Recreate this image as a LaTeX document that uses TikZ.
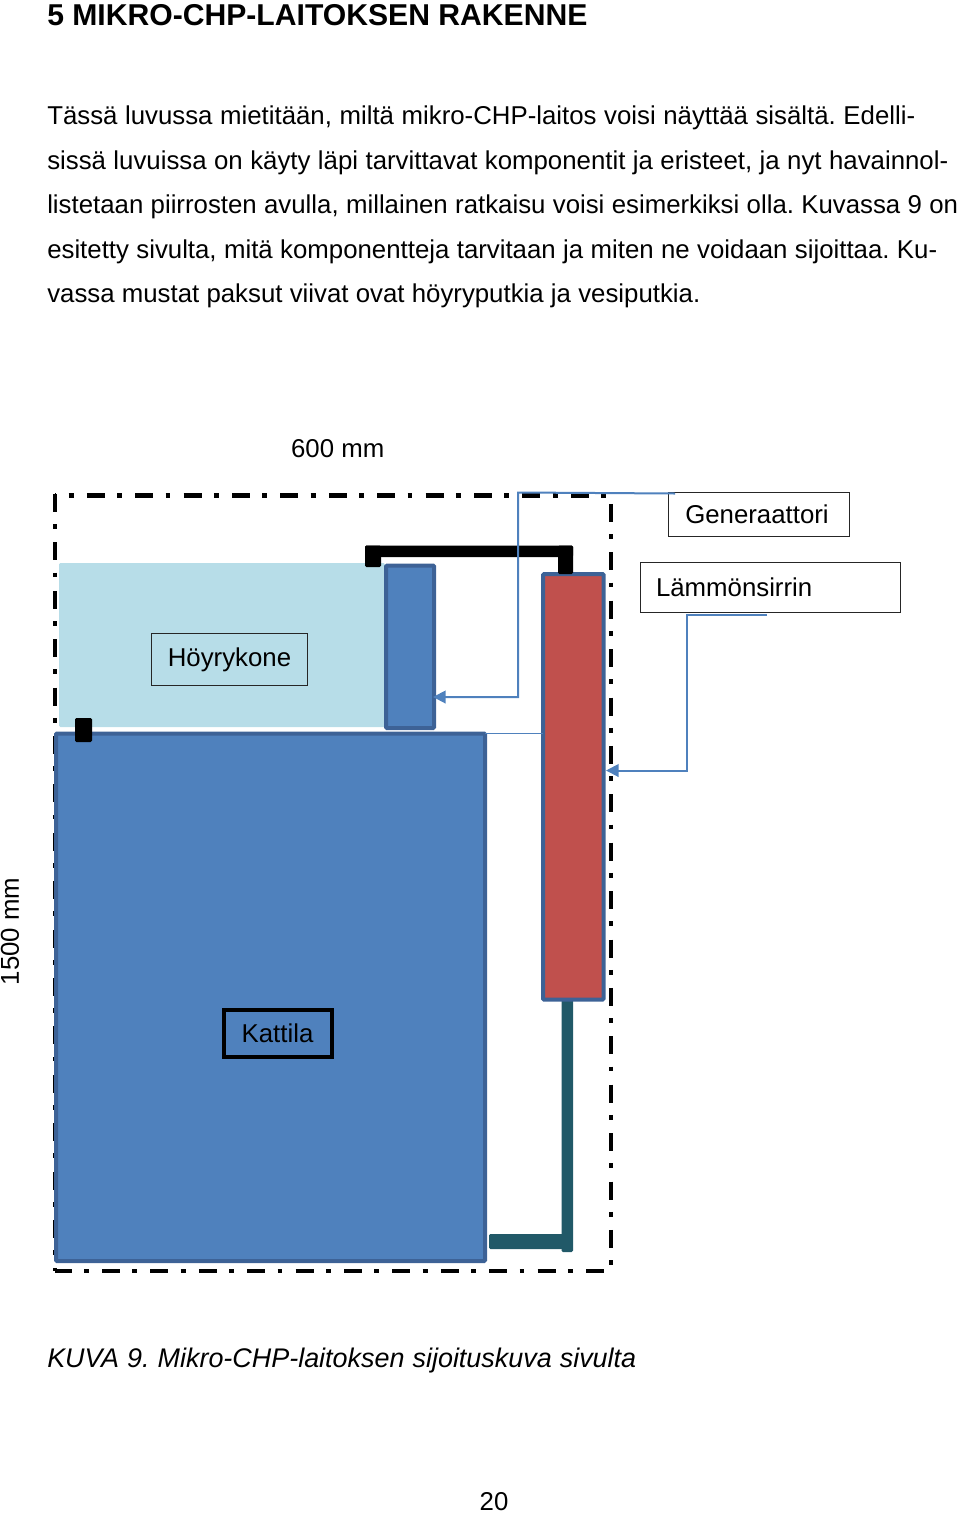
\documentclass[tikz,border=0pt]{standalone}
\usepackage{fontspec}
\setmainfont{Liberation Sans}
\usetikzlibrary{arrows.meta}
\definecolor{kattilablue}{HTML}{4F81BD}
\definecolor{edgeblue}{HTML}{3D6296}
\definecolor{koneblue}{HTML}{B7DDE8}
\definecolor{siirrinred}{HTML}{C0504D}
\definecolor{vesiteal}{HTML}{215968}
\frenchspacing
\tikzset{
    boxsize/.style 2 args={minimum width=#1*0.75pt, minimum height=#2*0.75pt},
    part/.style={draw=edgeblue, line width=3pt, anchor=north west, inner sep=0pt, outer sep=0pt, rounded corners=0.8pt},
    tagbox/.style={draw=black!85, line width=0.7pt, anchor=north west, inner sep=0pt, outer sep=0pt, font=\fontsize{19.35pt}{23pt}\selectfont},
    plain/.style={inner sep=0pt, font=\fontsize{19.35pt}{23pt}\selectfont},
    bodyline/.style={plain, anchor=base west},
    border/.style={line width=3.4pt, dash pattern=on 13.5pt off 9.2pt on 3.6pt off 10pt},
    lead/.style={draw=kattilablue, line width=1.5pt},
    pipe/.style={fill=black, rounded corners=1pt}
}
\begin{document}
\begin{tikzpicture}[x=0.75pt, y=-0.75pt]
    \useasboundingbox (0,0) rectangle (960,1514);

    % Heading and body text
    \node[bodyline, font=\fontsize{22.6pt}{26pt}\selectfont\bfseries] (otsikko) at (47,25) {5 MIKRO-CHP-LAITOKSEN RAKENNE};
    \foreach \y/\w/\rivi in {
        124/868/{Tässä luvussa mietitään, miltä mikro-CHP-laitos voisi näyttää sisältä. Edelli-},
        169/901/{sissä luvuissa on käyty läpi tarvittavat komponentit ja eristeet, ja nyt havainnol-},
        213/911/{listetaan piirrosten avulla, millainen ratkaisu voisi esimerkiksi olla. Kuvassa 9 on},
        258/890/{esitetty sivulta, mitä komponentteja tarvitaan ja miten ne voidaan sijoittaa. Ku-},
        302/653/{vassa mustat paksut viivat ovat höyryputkia ja vesiputkia.}} {
        \node[bodyline] (rivi\y) at (47,\y) {\makebox[0.75\dimexpr\w pt\relax][s]{\rivi}};
    }

    % Light blue engine area
    \node[fill=koneblue, boxsize={326}{164}, anchor=north west, inner sep=0pt, outer sep=0pt, rounded corners=1pt] (konearea) at (59,563) {};

    % Dashed outline of the plant
    \draw[border, dash phase=0pt] (55,494) -- (55,1271);
    \draw[border, dash phase=12.4pt] (55,495.5) -- (611,495.5);
    \draw[border, dash phase=30pt] (611,495.5) -- (611,1271);
    \draw[border, dash phase=1pt] (55,1271) -- (611,1271);

    % Water pipe
    \fill[vesiteal, rounded corners=1pt] (489,1234) rectangle (568,1249);
    \fill[vesiteal, rounded corners=1pt] (561.5,995) rectangle (573,1252);

    % Parts
    \node[part, fill=kattilablue, boxsize={429}{527.5}] (kattilabox) at (56,733.5) {};
    \node[part, fill=kattilablue, boxsize={48}{162.5}] (genbox) at (386,565.5) {};
    \node[part, fill=siirrinred, boxsize={60.5}{425.5}] (siirrinbox) at (543,574) {};

    % Steam pipe
    \fill[pipe] (365,545.5) rectangle (573,557);
    \fill[pipe] (365,545.5) rectangle (381,567);
    \fill[pipe] (558,545.5) rectangle (573,574);
    \fill[pipe] (75,718) rectangle (92,742);

    % Labels
    \node[tagbox, boxsize={181}{44}] (generaattori) at (668.5,492.5) {\raisebox{-0.7pt}{Generaattori}\kern3pt};
    \node[tagbox, boxsize={260}{50}, text width=228*0.75pt, align=left] (lammonsirrin) at (640,562.5) {\raisebox{1.2pt}{Lämmönsirrin}};
    \node[tagbox, boxsize={156}{52}] (hoyrykone) at (151.5,633.5) {Höyrykone};
    \node[tagbox, draw=black, line width=3pt, boxsize={108}{47}] (kattila) at (223.5,1009.5) {Kattila};
    \node[plain] (leveys) at (337.7,448.5) {600 mm};
    \node[plain, rotate=90] (korkeus) at (10,931.5) {1500 mm};
    \node[bodyline, font=\fontsize{20.2pt}{23pt}\selectfont\itshape] (kuvateksti) at (47,1367) {\makebox[441.75pt][s]{KUVA 9. Mikro-CHP-laitoksen sijoituskuva sivulta}};
    \node[plain] (sivu) at (494,1502) {20};

    % Leader lines
    \coordinate (genstart) at (675,493.5);
    \coordinate (genbend) at (518,492.5);
    \coordinate (gentip) at (433,697);
    \coordinate (siirrinstart) at (767,615);
    \coordinate (siirrinbend) at (687,615);
    \coordinate (siirrintip) at (606,770.5);
    \draw[lead, -{Triangle[length=9.5pt,width=9.5pt]}] (genstart) -- (genbend) |- (gentip);
    \draw[lead, -{Triangle[length=9.5pt,width=9.5pt]}] (siirrinstart) -- (siirrinbend) |- (siirrintip);
    \draw[lead, line width=1.1pt] (kattilabox.north east) -- (kattilabox.north east -| siirrinbox.west);
\end{tikzpicture}
\end{document}
